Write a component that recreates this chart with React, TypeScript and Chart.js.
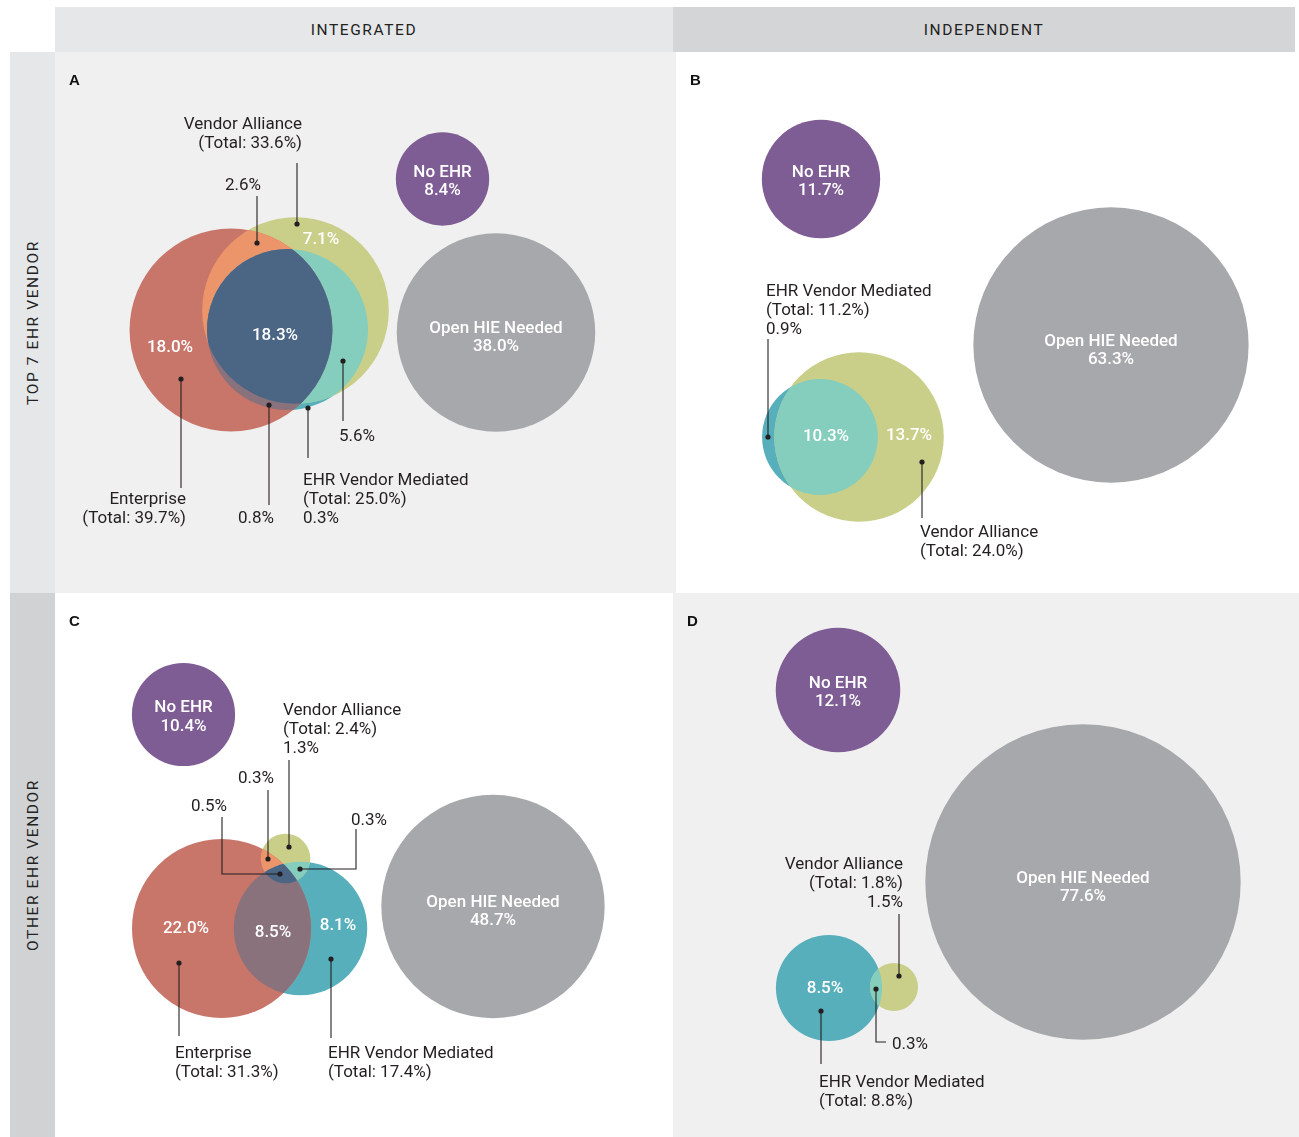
import React, { useEffect, useRef } from "react";
import { Chart, registerables } from "chart.js";

Chart.register(...registerables);

// ---------------- DATA ----------------
const setNames = ["Enterprise", "Vendor Alliance", "EHR Vendor Mediated", "No EHR", "Open HIE Needed"];
const columnLabels = ["INTEGRATED", "INDEPENDENT"];
const rowLabels = ["TOP 7 EHR VENDOR", "OTHER EHR VENDOR"];
const panelLetters = ["A", "B", "C", "D"];
// region order: E only, V only, M only, E∩V, V∩M, E∩M, E∩V∩M
const regionKeys = ["E", "V", "M", "EV", "VM", "EM", "EVM"];

const totalsA = [39.7, 33.6, 25.0, 8.4, 38.0];
const regionsA = [18.0, 7.1, 0.3, 2.6, 5.6, 0.8, 18.3];

const totalsB = [null, 24.0, 11.2, 11.7, 63.3];
const regionsB = [null, 13.7, 0.9, null, 10.3, null, null];

const totalsC = [31.3, 2.4, 17.4, 10.4, 48.7];
const regionsC = [22.0, 1.3, 8.1, 0.3, 0.3, 8.5, 0.5];

const totalsD = [null, 1.8, 8.8, 12.1, 77.6];
const regionsD = [null, 1.5, 8.5, null, 0.3, null, null];

// ---------------- STYLE / LAYOUT ----------------
const setColors = ["#c8756a", "#c9cf88", "#57afbc", "#7e5c94", "#a7a8ab"];
const regionColors = ["#c8756a", "#c9cf88", "#57afbc", "#ec956a", "#85cdbd", "#8a727c", "#4b6584"];
const TEXT = "#231f20";
const FONT = "Roboto, 'Noto Sans', sans-serif";
const TEXT_DY = 2;

type Pt = [number, number];
type Callout = { set?: number; region?: number; text: Pt; align: CanvasTextAlign; path: Pt[] };
type PanelCfg = {
  id: string;
  letter: number;
  box: [number, number, number, number];
  bg: string;
  k: number;
  totals: (number | null)[];
  regions: (number | null)[];
  centers: Record<number, Pt>;
  inner: [number, number, number][];
  callouts: Callout[];
};

const panels: PanelCfg[] = [
  {
    id: "A", letter: 0, box: [55, 52, 676, 593], bg: "#f0f0f0", k: 16.1,
    totals: totalsA, regions: regionsA,
    centers: { 0: [231, 330], 1: [295.5, 310.5], 2: [287.5, 329.5], 3: [442.5, 179], 4: [496, 332.5] },
    inner: [[0, 170, 346], [6, 275, 334], [1, 321, 238]],
    callouts: [
      { set: 1, text: [302, 123], align: "right", path: [[297, 163], [297, 224]] },
      { region: 3, text: [243, 184], align: "center", path: [[257, 196], [257, 243]] },
      { set: 0, text: [186, 498], align: "right", path: [[181, 488], [181, 379]] },
      { region: 5, text: [256, 517], align: "center", path: [[269, 505], [269, 405]] },
      { set: 2, region: 2, text: [303, 479], align: "left", path: [[308, 458], [308, 408]] },
      { region: 4, text: [357, 435], align: "center", path: [[343, 421], [343, 361]] },
    ],
  },
  {
    id: "B", letter: 1, box: [676, 52, 1295, 593], bg: "#ffffff", k: 17.3,
    totals: totalsB, regions: regionsB,
    centers: { 1: [859, 437], 2: [820, 437], 3: [821, 179], 4: [1111, 345] },
    inner: [[4, 826, 435], [1, 909, 434]],
    callouts: [
      { set: 2, region: 2, text: [766, 290], align: "left", path: [[768, 339], [768, 437]] },
      { set: 1, text: [920, 531], align: "left", path: [[922, 518], [922, 462]] },
    ],
  },
  {
    id: "C", letter: 2, box: [55, 593, 673, 1137], bg: "#ffffff", k: 16.0,
    totals: totalsC, regions: regionsC,
    centers: { 0: [221.5, 928.5], 1: [285.5, 858.5], 2: [300.5, 928.5], 3: [183.5, 714.5], 4: [493, 906.5] },
    inner: [[0, 186, 927], [5, 273, 931], [2, 338, 924]],
    callouts: [
      { set: 1, region: 1, text: [283, 709], align: "left", path: [[289, 760], [289, 847]] },
      { region: 3, text: [256, 777], align: "center", path: [[268, 790], [268, 859]] },
      { region: 6, text: [209, 805], align: "center", path: [[222, 817], [222, 874], [280, 874]] },
      { region: 4, text: [369, 819], align: "center", path: [[356, 829], [356, 869], [300, 869]] },
      { set: 0, text: [175, 1052], align: "left", path: [[179, 1036], [179, 963]] },
      { set: 2, text: [328, 1052], align: "left", path: [[331, 1038], [331, 959]] },
    ],
  },
  {
    id: "D", letter: 3, box: [673, 593, 1299, 1137], bg: "#f0f0f0", k: 17.9,
    totals: totalsD, regions: regionsD,
    centers: { 1: [894, 987], 2: [829, 988], 3: [838, 690], 4: [1083, 882] },
    inner: [[2, 825, 987]],
    callouts: [
      { set: 1, region: 1, text: [903, 863], align: "right", path: [[899, 914], [899, 976]] },
      { region: 4, text: [892, 1043], align: "left", path: [[886, 1042], [876, 1042], [876, 989]] },
      { set: 2, text: [819, 1081], align: "left", path: [[821, 1064], [821, 1011]] },
    ],
  },
];

const fmt = (v: number) => v.toFixed(1) + "%";
const combos: [number, number[]][] = [[3, [0, 1]], [4, [1, 2]], [5, [0, 2]], [6, [0, 1, 2]]];

function VennPanel({ cfg }: { cfg: PanelCfg }) {
  const ref = useRef<HTMLCanvasElement>(null);
  const [x0, y0, x1, y1] = cfg.box;
  const W = x1 - x0;
  const H = y1 - y0;

  useEffect(() => {
    const order = [0, 1, 2, 3, 4].filter((s) => cfg.totals[s] != null);
    const datasets = order.map((s) => ({
      label: setNames[s],
      data: [{ x: cfg.centers[s][0], y: cfg.centers[s][1], r: cfg.k * Math.sqrt(cfg.totals[s] as number) }],
      backgroundColor: setColors[s],
      borderWidth: 0,
      hoverBorderWidth: 0,
    }));

    const circ = (chart: any, s: number) => {
      const i = order.indexOf(s);
      if (i < 0) return null;
      const p: any = chart.getDatasetMeta(i).data[0];
      return { x: p.x, y: p.y, r: p.options.radius };
    };

    const vennPlugin = {
      id: "venn" + cfg.id,
      afterDatasetsDraw(chart: any) {
        const ctx = chart.ctx as CanvasRenderingContext2D;
        for (const [reg, sets] of combos) {
          if (cfg.regions[reg] == null) continue;
          const cs = sets.map((s) => circ(chart, s));
          if (cs.some((c) => !c)) continue;
          ctx.save();
          for (let j = 0; j < cs.length - 1; j++) {
            const c = cs[j]!;
            ctx.beginPath();
            ctx.arc(c.x, c.y, c.r, 0, Math.PI * 2);
            ctx.clip();
          }
          const last = cs[cs.length - 1]!;
          ctx.beginPath();
          ctx.arc(last.x, last.y, last.r, 0, Math.PI * 2);
          ctx.fillStyle = regionColors[reg];
          ctx.fill();
          ctx.restore();
        }
      },
      afterDraw(chart: any) {
        const ctx = chart.ctx as CanvasRenderingContext2D;
        const sx = (v: number) => chart.scales.x.getPixelForValue(v);
        const sy = (v: number) => chart.scales.y.getPixelForValue(v);
        ctx.save();
        // white labels inside regions
        ctx.fillStyle = "#ffffff";
        ctx.font = `500 17px ${FONT}`;
        ctx.textAlign = "center";
        ctx.textBaseline = "middle";
        for (const [reg, x, y] of cfg.inner) {
          ctx.fillText(fmt(cfg.regions[reg] as number), sx(x), sy(y + TEXT_DY));
        }
        // labels of single circles
        for (const s of [3, 4]) {
          const c = circ(chart, s);
          if (!c) continue;
          const off = s === 3 ? [-8.5, 10] : [-5.5, 12.5];
          ctx.fillText(setNames[s], c.x, c.y + off[0] + TEXT_DY);
          ctx.fillText(fmt(cfg.totals[s] as number), c.x, c.y + off[1] + TEXT_DY);
        }
        // callouts
        ctx.strokeStyle = TEXT;
        ctx.fillStyle = TEXT;
        ctx.lineWidth = 1.1;
        ctx.font = `400 17px ${FONT}`;
        for (const co of cfg.callouts) {
          ctx.beginPath();
          co.path.forEach((p, i) => (i === 0 ? ctx.moveTo(sx(p[0]), sy(p[1])) : ctx.lineTo(sx(p[0]), sy(p[1]))));
          ctx.stroke();
          const d = co.path[co.path.length - 1];
          ctx.beginPath();
          ctx.arc(sx(d[0]), sy(d[1]), 2.6, 0, Math.PI * 2);
          ctx.fill();
          const lines: string[] = [];
          if (co.set != null) {
            lines.push(setNames[co.set]);
            lines.push(`(Total: ${fmt(cfg.totals[co.set] as number)})`);
          }
          if (co.region != null) lines.push(fmt(cfg.regions[co.region] as number));
          ctx.textAlign = co.align;
          lines.forEach((t, i) => ctx.fillText(t, sx(co.text[0]), sy(co.text[1] + i * 19 + TEXT_DY)));
        }
        ctx.restore();
      },
    };

    const chart = new Chart(ref.current as HTMLCanvasElement, {
      type: "bubble",
      data: { datasets },
      options: {
        animation: false,
        responsive: false,
        maintainAspectRatio: false,
        events: [],
        layout: { padding: 0, autoPadding: false },
        scales: {
          x: { type: "linear", min: x0, max: x1, display: false },
          y: { type: "linear", min: y0, max: y1, reverse: true, display: false },
        },
        plugins: { legend: { display: false }, tooltip: { enabled: false } },
      } as any,
      plugins: [vennPlugin],
    });
    return () => chart.destroy();
  }, []);

  return (
    <div style={{ position: "absolute", left: x0, top: y0, width: W, height: H, background: cfg.bg }}>
      <canvas ref={ref} width={W} height={H} style={{ position: "absolute", left: 0, top: 0, width: W, height: H }} />
      <div
        style={{
          position: "absolute",
          left: 0,
          top: 0,
          transform: "translate(14px, 21px)",
          font: "bold 15px 'Liberation Sans', Arial, sans-serif",
          color: "#111",
          lineHeight: "14px",
        }}
      >
        {panelLetters[cfg.letter]}
      </div>
    </div>
  );
}

const headerText: React.CSSProperties = {
  position: "absolute",
  display: "flex",
  alignItems: "center",
  justifyContent: "center",
  fontFamily: FONT,
  fontSize: 15.5,
  letterSpacing: "1.6px",
  color: "#222",
};

export default function App() {
  return (
    <div style={{ position: "absolute", left: 0, top: 0, width: 1299, height: 1137, background: "#fff", overflow: "hidden" }}>
      <div style={{ ...headerText, left: 55, top: 7, width: 618, height: 45, background: "#e6e7e8" }}>{columnLabels[0]}</div>
      <div style={{ ...headerText, left: 673, top: 7, width: 622, height: 45, background: "#d4d5d7" }}>{columnLabels[1]}</div>
      <div style={{ position: "absolute", left: 10, top: 52, width: 45, height: 541, background: "#e6e7e8" }}>
        <div style={{ ...headerText, left: 0, top: 0, width: 541, height: 45, transformOrigin: "0 0", transform: "translate(0px, 541px) rotate(-90deg)" }}>
          {rowLabels[0]}
        </div>
      </div>
      <div style={{ position: "absolute", left: 10, top: 593, width: 45, height: 544, background: "#d1d2d4" }}>
        <div style={{ ...headerText, left: 0, top: 0, width: 544, height: 45, transformOrigin: "0 0", transform: "translate(0px, 544px) rotate(-90deg)" }}>
          {rowLabels[1]}
        </div>
      </div>
      {panels.map((p) => (
        <VennPanel key={p.id} cfg={p} />
      ))}
    </div>
  );
}
